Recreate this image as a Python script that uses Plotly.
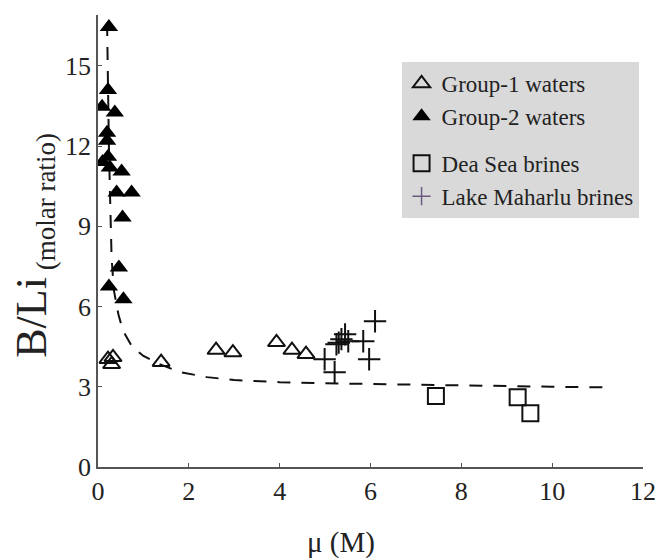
import plotly.graph_objects as go

# ---- data ----
g1_x = [0.22, 0.33, 0.30, 1.39, 2.60, 2.97, 3.93, 4.27, 4.58]
g1_y = [4.03, 4.10, 3.84, 3.92, 4.37, 4.28, 4.66, 4.37, 4.22]

g2_x = [0.24, 0.22, 0.09, 0.37, 0.20, 0.20, 0.22, 0.10, 0.26, 0.52, 0.41, 0.74, 0.54, 0.46, 0.24, 0.56]
g2_y = [16.45, 14.1, 13.47, 13.25, 12.5, 12.2, 11.6, 11.4, 11.2, 11.05, 10.26, 10.26, 9.33, 7.46, 6.75, 6.27]

ds_x = [7.44, 9.24, 9.52]
ds_y = [2.65, 2.61, 2.01]

lm_x = [4.99, 5.21, 5.25, 5.30, 5.36, 5.44, 5.51, 5.84, 5.97, 6.10]
lm_y = [4.03, 3.54, 4.59, 4.65, 4.78, 4.96, 4.70, 4.70, 4.03, 5.45]

curve_x = [0.20, 0.21, 0.22, 0.24, 0.26, 0.28, 0.30, 0.35, 0.45, 0.55, 0.75, 1.0, 1.35,
           1.8, 2.4, 3.0, 3.5, 4.0, 5.0, 6.0, 7.0, 8.0, 9.0, 10.0, 11.2]
curve_y = [16.6, 15.0, 13.5, 12.0, 10.5, 9.0, 7.8, 6.6, 5.7, 5.1, 4.5, 4.15, 3.85,
           3.55, 3.36, 3.25, 3.2, 3.17, 3.13, 3.1, 3.08, 3.05, 3.03, 3.0, 2.98]

x_ticks = [0, 2, 4, 6, 8, 10, 12]
y_ticks = [0, 3, 6, 9, 12, 15]

FONT = "Liberation Serif"
TXT = "#222222"

fig = go.Figure()

fig.add_trace(go.Scatter(x=curve_x, y=curve_y, mode="lines",
                         line=dict(color="#111111", width=2, dash="13px,11px"),
                         showlegend=False, hoverinfo="skip"))

fig.add_trace(go.Scatter(x=g1_x, y=g1_y, mode="markers", name="Group-1 waters",
                         legendgroup="a",
                         marker=dict(symbol="triangle-up-open", size=15, color="#111111",
                                     line=dict(width=2, color="#111111"))))
fig.add_trace(go.Scatter(x=g2_x, y=g2_y, mode="markers", name="Group-2 waters",
                         legendgroup="a",
                         marker=dict(symbol="triangle-up", size=16, color="#000000")))
fig.add_trace(go.Scatter(x=ds_x, y=ds_y, mode="markers", name="Dea Sea brines",
                         legendgroup="b",
                         marker=dict(symbol="square-open", size=16, color="#111111",
                                     line=dict(width=2, color="#111111"))))
fig.add_trace(go.Scatter(x=lm_x, y=lm_y, mode="markers", name="Lake Maharlu brines",
                         legendgroup="b", showlegend=False,
                         marker=dict(symbol="cross-thin-open", size=16, color="#111111",
                                     line=dict(width=2, color="#111111"))))
# legend-only entry (purple plus, as in the reference key)
fig.add_trace(go.Scatter(x=[None], y=[None], mode="markers", name="Lake Maharlu brines",
                         legendgroup="b",
                         marker=dict(symbol="cross-thin-open", size=13, color="#6a5a80",
                                     line=dict(width=1.5, color="#6a5a80"))))

def axis_style():
    return dict(showgrid=False, zeroline=False, showline=True, linecolor="#555555",
                linewidth=1.5, ticks="inside", ticklen=4, tickwidth=1.2,
                tickcolor="#555555", mirror=False,
                tickfont=dict(family=FONT, size=26, color=TXT))

fig.update_layout(
    width=668, height=560,
    margin=dict(l=98, r=17, t=15, b=93),
    paper_bgcolor="white", plot_bgcolor="white",
    font=dict(family=FONT, color=TXT, size=26),
    xaxis=dict(range=[0, 12], tickvals=x_ticks, **axis_style()),
    yaxis=dict(range=[0, 16.9], tickvals=y_ticks, **axis_style()),
    legend=dict(x=0.557, y=0.896, xanchor="left", yanchor="top",
                bgcolor="#d9d9d9", borderwidth=0, tracegroupgap=14,
                traceorder="grouped",
                font=dict(family=FONT, size=23, color=TXT)),
    annotations=[
        dict(text="μ (M)", x=0.445, y=-0.168, xref="paper", yref="paper",
             xanchor="center", yanchor="middle", showarrow=False,
             font=dict(family=FONT, size=29, color=TXT)),
        dict(text="B/Li<sub><span style='font-size:27px'> (molar ratio)</span></sub>",
             x=-0.118, y=0.491, xref="paper", yref="paper", textangle=-90,
             xanchor="center", yanchor="middle", showarrow=False,
             font=dict(family=FONT, size=44, color=TXT)),
    ],
)

fig.write_html("out.html")
